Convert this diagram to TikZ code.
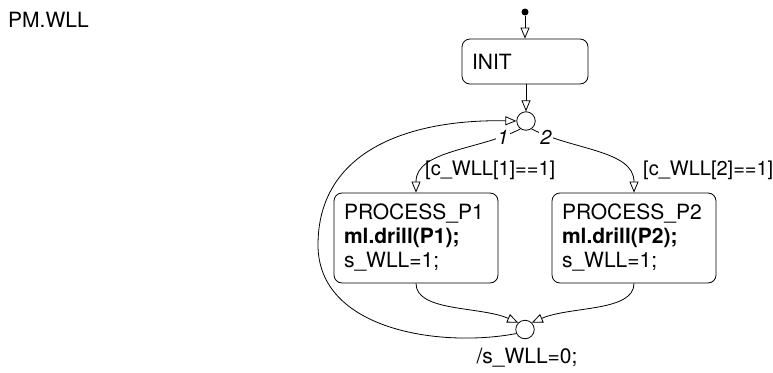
\documentclass[tikz,border=0pt]{standalone}
\usepackage{fontspec}
\setmainfont{TeX Gyre Heros}
\usetikzlibrary{arrows.meta}
\tikzset{
  tr/.style={draw, line width=0.8pt, -{Triangle[open, length=11pt, width=9pt, fill=white]}},
  plain/.style={draw, line width=0.8pt},
  statebox/.style={draw, line width=0.8pt, rounded corners=8pt, align=left, inner xsep=10pt, inner ysep=0pt},
  junc/.style={draw, line width=0.8pt, circle, minimum size=18.5pt, inner sep=0pt, fill=white},
  txt/.style={inner sep=0pt, font=\fontsize{21}{24}\selectfont},
  gtxt/.style={inner sep=0pt, font=\fontsize{20}{24}\selectfont, anchor=west},
  ord/.style={inner sep=1pt, fill=white, font=\itshape\fontsize{20}{24}\selectfont}
}
\begin{document}
\begin{tikzpicture}[x=1pt,y=-1pt]
\useasboundingbox (0,0) rectangle (773,372);
\node[txt, anchor=west] (title) at (8,20) {PM.WLL};
\node[circle, fill=black, inner sep=0pt, minimum size=7pt] (start) at (525,12) {};
\node[statebox, minimum width=126pt, minimum height=45pt, text width=106pt, font=\fontsize{21}{24}\selectfont] (init) at (525,61.5) {INIT};
\node[junc] (j1) at (526,121) {};
\node[statebox, minimum width=164pt, minimum height=90pt, text width=144pt, font=\fontsize{21}{24}\selectfont] (p1) at (416,238) {PROCESS\_P1\\\textbf{ml.drill(P1);}\\s\_WLL=1;};
\node[statebox, minimum width=164pt, minimum height=90pt, text width=144pt, font=\fontsize{21}{24}\selectfont] (p2) at (634,238) {PROCESS\_P2\\\textbf{ml.drill(P2);}\\s\_WLL=1;};
\node[junc] (j2) at (525,329.5) {};
\draw[tr] (start) -- (init);
\draw[tr] (init.south -| j1) -- (j1.north);
\draw[tr] (j1.235) .. controls (480,150) and (416,150) .. (p1.north);
\draw[tr] (j1.305) .. controls (572,150) and (634,150) .. (p2.north);
\node[ord] (o1) at (503,137) {1};
\node[ord] (o2) at (546,137) {2};
\node[gtxt] (g1) at (425,170) {[c\_WLL[1]==1]};
\node[gtxt] (g2) at (643,170) {[c\_WLL[2]==1]};
\draw[tr] (p1.south) .. controls (416,312) and (480,306) .. (j2.135);
\draw[tr] (p2.south) .. controls (634,312) and (570,306) .. (j2.45);
\coordinate (lft) at (318,245);
\draw[tr] (j2.205) .. controls (440,348) and (318,330) .. (lft) .. controls (318,150) and (410,119) .. (j1.west);
\node[txt] (act) at (527,358) {/s\_WLL=0;};
\end{tikzpicture}
\end{document}
